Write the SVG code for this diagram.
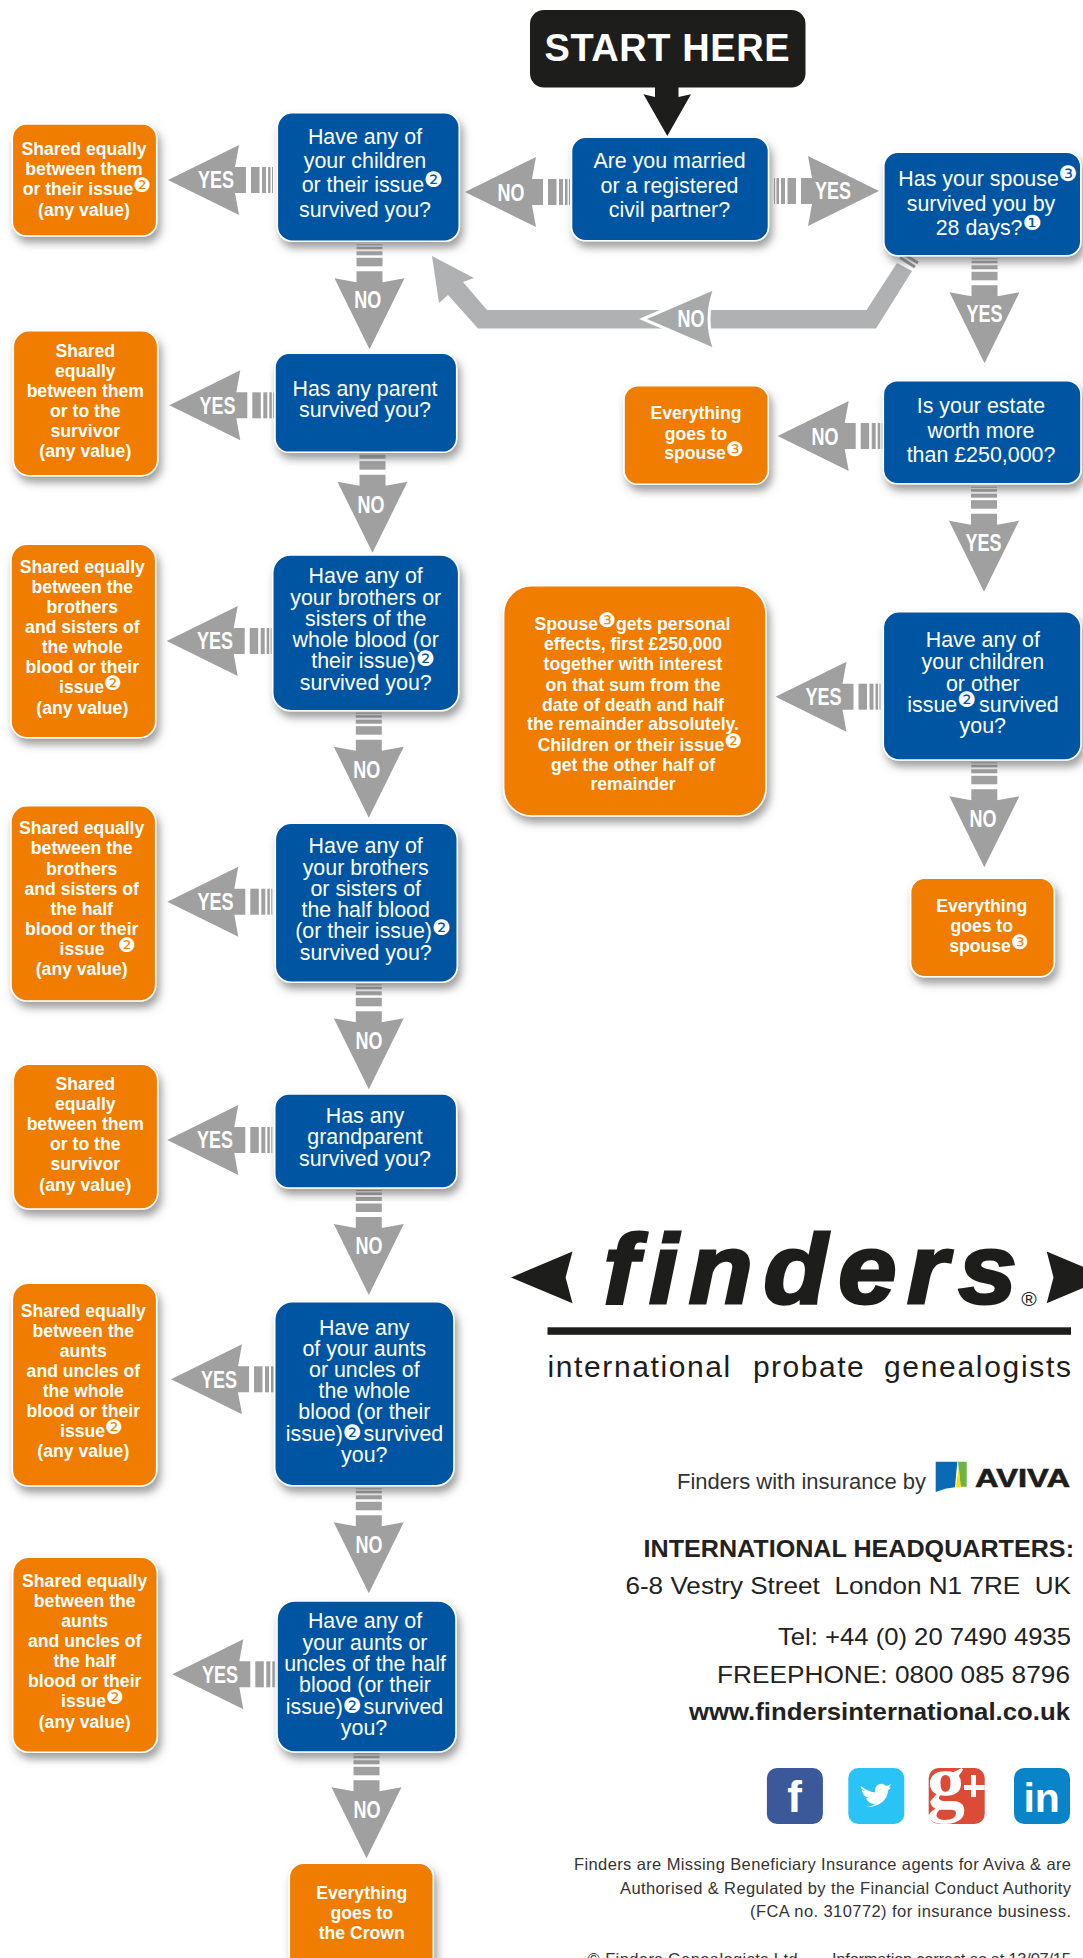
<svg xmlns="http://www.w3.org/2000/svg" xmlns:xlink="http://www.w3.org/1999/xlink" width="1083" height="1958" viewBox="0 0 1083 1958">
<style>
text{font-family:"Liberation Sans",Arial,sans-serif}
.b{fill:#0054a3;stroke:#fff;stroke-width:1.6;filter:url(#sh)}
.o{fill:#f07d00;stroke:#fff;stroke-width:1.6;filter:url(#sh)}
.q{fill:#fff;font-size:21.4px;text-anchor:middle}
.t{fill:#fff;font-size:17.6px;font-weight:700;text-anchor:middle}
.l{fill:#fff;font-size:23px;font-weight:700;text-anchor:middle}
.n{font-family:"DejaVu Sans",sans-serif;font-weight:400}
.q .n{font-size:21px}
.t .n{font-size:20px}
.a{fill:#a0a0a0}
.ad{fill:#222;text-anchor:end;white-space:pre}
</style>
<defs>
<filter id="sh" x="-15%" y="-15%" width="135%" height="135%"><feDropShadow dx="3" dy="6" stdDeviation="4" flood-color="#5a5a5a" flood-opacity=".6"/></filter>
<g id="ar" class="a"><path d="M0 0L71-35 67-13H78V13H67L71 35Z"/><rect x="83" y="-13" width="8.5" height="26"/><rect x="94" y="-13" width="4" height="26"/><rect x="100" y="-13" width="2.5" height="26"/><rect x="104" y="-13" width="1" height="26"/></g>
</defs>
<rect width="1083" height="1958" fill="#fff"/>

<g id="connectors">
<path id="start-arrow" fill="#1d1d1b" d="M655 86H678.5V97L691 94.300 667.300 136 643.500 94.300 655 97Z"/>
<g><use href="#ar" transform="translate(465 192)"/><text class="l" x="511" y="201" textLength="27" lengthAdjust="spacingAndGlyphs">NO</text></g>
<g><use href="#ar" transform="translate(879 191) rotate(180)"/><text class="l" x="833" y="199" textLength="36" lengthAdjust="spacingAndGlyphs">YES</text></g>
<g><path fill="#b0b1b3" d="M432 256L474 278 463 282 487 310H866.500L897 263 912 271 876 328.500H478L448 295 439 303Z"/>
<path stroke="#8f9092" stroke-width="3" d="M900 257.500L915 267M903 253.500L918 263"/>
<path fill="#a8a9ab" stroke="#fff" stroke-width="3" d="M643 319L715 288Q703 319 715 350Z"/>
<text class="l" x="691" y="327" textLength="27" lengthAdjust="spacingAndGlyphs">NO</text></g>
<g><use href="#ar" transform="translate(984.500 363.300) rotate(-90)"/><text class="l" x="984.500" y="322" textLength="36" lengthAdjust="spacingAndGlyphs">YES</text></g>
<g><use href="#ar" transform="translate(777.700 436)"/><text class="l" x="825" y="445" textLength="27" lengthAdjust="spacingAndGlyphs">NO</text></g>
<g><use href="#ar" transform="translate(984 591.700) rotate(-90)"/><text class="l" x="983.500" y="551" textLength="36" lengthAdjust="spacingAndGlyphs">YES</text></g>
<g><use href="#ar" transform="translate(775.500 696.700)"/><text class="l" x="823.500" y="705" textLength="36" lengthAdjust="spacingAndGlyphs">YES</text></g>
<g><use href="#ar" transform="translate(984.300 867.300) rotate(-90)"/><text class="l" x="983" y="827" textLength="27" lengthAdjust="spacingAndGlyphs">NO</text></g>

<g><use href="#ar" transform="translate(168 180)"/><text class="l" x="216" y="188.300" textLength="36" lengthAdjust="spacingAndGlyphs">YES</text></g>
<g><use href="#ar" transform="translate(169.300 405.300)"/><text class="l" x="217.500" y="413.500" textLength="36" lengthAdjust="spacingAndGlyphs">YES</text></g>
<g><use href="#ar" transform="translate(166.700 641)"/><text class="l" x="215" y="649" textLength="36" lengthAdjust="spacingAndGlyphs">YES</text></g>
<g><use href="#ar" transform="translate(167.300 901.700)"/><text class="l" x="215.500" y="910" textLength="36" lengthAdjust="spacingAndGlyphs">YES</text></g>
<g><use href="#ar" transform="translate(167.300 1140)"/><text class="l" x="215" y="1148" textLength="36" lengthAdjust="spacingAndGlyphs">YES</text></g>
<g><use href="#ar" transform="translate(171 1379.300)"/><text class="l" x="219" y="1387.500" textLength="36" lengthAdjust="spacingAndGlyphs">YES</text></g>
<g><use href="#ar" transform="translate(172.300 1674.300)"/><text class="l" x="220" y="1682.500" textLength="36" lengthAdjust="spacingAndGlyphs">YES</text></g>

<g><use href="#ar" transform="translate(369.500 349.300) rotate(-90)"/><text class="l" x="367.700" y="308.300" textLength="27" lengthAdjust="spacingAndGlyphs">NO</text></g>
<g><use href="#ar" transform="translate(372.500 552.700) rotate(-90)"/><text class="l" x="371" y="512.700" textLength="27" lengthAdjust="spacingAndGlyphs">NO</text></g>
<g><use href="#ar" transform="translate(368.800 817.700) rotate(-90)"/><text class="l" x="366.700" y="777.700" textLength="27" lengthAdjust="spacingAndGlyphs">NO</text></g>
<g><use href="#ar" transform="translate(368.800 1089.300) rotate(-90)"/><text class="l" x="369" y="1049.300" textLength="27" lengthAdjust="spacingAndGlyphs">NO</text></g>
<g><use href="#ar" transform="translate(368.800 1295) rotate(-90)"/><text class="l" x="369" y="1254.300" textLength="27" lengthAdjust="spacingAndGlyphs">NO</text></g>
<g><use href="#ar" transform="translate(368.800 1593.300) rotate(-90)"/><text class="l" x="369" y="1553.300" textLength="27" lengthAdjust="spacingAndGlyphs">NO</text></g>
<g><use href="#ar" transform="translate(366.500 1858.300) rotate(-90)"/><text class="l" x="367" y="1818.300" textLength="27" lengthAdjust="spacingAndGlyphs">NO</text></g>
</g>

<g id="start"><rect x="530" y="10" width="275.500" height="77.500" rx="14" fill="#1d1d1b"/><text x="544.500" y="61" fill="#fff" font-size="38" font-weight="700" textLength="245">START HERE</text></g>

<g id="married"><rect class="b" x="571.500" y="137.300" width="197" height="103.400" rx="14"/><text class="q"><tspan x="669.500" y="168">Are you married</tspan><tspan x="669.500" y="193">or a registered</tspan><tspan x="669.500" y="217">civil partner?</tspan></text></g>

<g id="spouse-survived"><rect class="b" x="883.800" y="152.300" width="197" height="103.400" rx="14"/><text class="q"><tspan x="988" y="186">Has your spouse<tspan class="n" dy="-5">❸</tspan></tspan><tspan x="981" y="210.700">survived you by</tspan><tspan x="988.500" y="235">28 days?<tspan class="n" dy="-5">❶</tspan></tspan></text></g>

<g id="estate"><rect class="b" x="883.300" y="380.700" width="197.700" height="103" rx="14"/><text class="q"><tspan x="981" y="413.300">Is your estate</tspan><tspan x="981" y="438.300">worth more</tspan><tspan x="981" y="462.300">than £250,000?</tspan></text></g>

<g id="spouse-all-1"><rect class="o" x="624" y="385.700" width="144.300" height="98.600" rx="14"/><text class="t"><tspan x="696" y="419.300">Everything</tspan><tspan x="696" y="440">goes to</tspan><tspan x="704" y="459.300">spouse<tspan class="n" dy="-3">❸</tspan></tspan></text></g>

<g id="children-2"><rect class="b" x="883.300" y="611.700" width="197.700" height="148.300" rx="16"/><text class="q"><tspan x="982.800" y="647.300">Have any of</tspan><tspan x="982.800" y="669.300">your children</tspan><tspan x="982.800" y="691">or other</tspan><tspan x="983" y="711.700">issue<tspan class="n" dy="-5">❷</tspan><tspan dy="5" dx="3">survived</tspan></tspan><tspan x="982.800" y="733.300">you?</tspan></text></g>

<g id="spouse-half"><rect class="o" x="503.600" y="585.700" width="262.400" height="230.300" rx="28"/><text class="t"><tspan x="632.500" y="630">Spouse<tspan class="n" dy="-3">❸</tspan><tspan dy="3">gets personal</tspan></tspan><tspan x="633" y="650">effects, first £250,000</tspan><tspan x="633" y="670">together with interest</tspan><tspan x="633" y="690.700">on that sum from the</tspan><tspan x="633" y="710.700">date of death and half</tspan><tspan x="633" y="730">the remainder absolutely.</tspan><tspan x="640" y="750.700">Children or their issue<tspan class="n" dy="-3">❷</tspan></tspan><tspan x="633" y="770.700">get the other half of</tspan><tspan x="633" y="790">remainder</tspan></text></g>

<g id="spouse-all-2"><rect class="o" x="910.600" y="878.300" width="143.700" height="98.400" rx="14"/><text class="t"><tspan x="981.700" y="911.700">Everything</tspan><tspan x="981.700" y="931.700">goes to</tspan><tspan x="989" y="952.300">spouse<tspan class="n" dy="-3">❸</tspan></tspan></text></g>

<g id="children"><rect class="b" x="277.300" y="112.700" width="182" height="128.600" rx="15"/><text class="q"><tspan x="365" y="144">Have any of</tspan><tspan x="365" y="168.300">your children</tspan><tspan x="372.300" y="192.300">or their issue<tspan class="n" dy="-5">❷</tspan></tspan><tspan x="365" y="216.700">survived you?</tspan></text></g>
<g id="share-children"><rect class="o" x="12.300" y="124" width="144.400" height="112" rx="14"/><text class="t"><tspan x="84" y="155">Shared equally</tspan><tspan x="84" y="175">between them</tspan><tspan x="87" y="195">or their issue<tspan class="n" dy="-3">❷</tspan></tspan><tspan x="84" y="215.700">(any value)</tspan></text></g>

<g id="parent"><rect class="b" x="275" y="353.300" width="181.700" height="99" rx="14"/><text class="q"><tspan x="365" y="395.700">Has any parent</tspan><tspan x="365" y="417.300">survived you?</tspan></text></g>
<g id="share-parent"><rect class="o" x="13.300" y="330.700" width="144.400" height="145" rx="16"/><text class="t"><tspan x="85.300" y="356.700">Shared</tspan><tspan x="85.300" y="376.700">equally</tspan><tspan x="85.300" y="396.700">between them</tspan><tspan x="85.300" y="416.700">or to the</tspan><tspan x="85.300" y="436.700">survivor</tspan><tspan x="85.300" y="457.300">(any value)</tspan></text></g>

<g id="brothers-whole"><rect class="b" x="272.700" y="555" width="186" height="155.700" rx="18"/><text class="q"><tspan x="365.700" y="583.300">Have any of</tspan><tspan x="365.700" y="605">your brothers or</tspan><tspan x="365.700" y="626">sisters of the</tspan><tspan x="365.700" y="647.300">whole blood (or</tspan><tspan x="373" y="668.300">their issue)<tspan class="n" dy="-2">❷</tspan></tspan><tspan x="365.700" y="690">survived you?</tspan></text></g>
<g id="share-brothers-whole"><rect class="o" x="11" y="544.300" width="144.700" height="193.400" rx="16"/><text class="t"><tspan x="82.300" y="572.700">Shared equally</tspan><tspan x="82.300" y="593.300">between the</tspan><tspan x="82.300" y="613.300">brothers</tspan><tspan x="82.300" y="633.300">and sisters of</tspan><tspan x="82.300" y="653.300">the whole</tspan><tspan x="82.300" y="673.300">blood or their</tspan><tspan x="90.500" y="693.300">issue<tspan class="n" dy="-3">❷</tspan></tspan><tspan x="82.300" y="714">(any value)</tspan></text></g>

<g id="brothers-half"><rect class="b" x="275.300" y="823.300" width="182" height="159" rx="16"/><text class="q"><tspan x="365.700" y="853.300">Have any of</tspan><tspan x="365.700" y="875">your brothers</tspan><tspan x="365.700" y="895.700">or sisters of</tspan><tspan x="365.700" y="917.300">the half blood</tspan><tspan x="373" y="938.300">(or their issue)<tspan class="n" dy="-3">❷</tspan></tspan><tspan x="365.700" y="960">survived you?</tspan></text></g>
<g id="share-brothers-half"><rect class="o" x="11" y="805.700" width="144.700" height="195.300" rx="16"/><text class="t"><tspan x="81.700" y="834.300">Shared equally</tspan><tspan x="81.700" y="854.300">between the</tspan><tspan x="81.700" y="875">brothers</tspan><tspan x="81.700" y="895">and sisters of</tspan><tspan x="81.700" y="915">the half</tspan><tspan x="81.700" y="935">blood or their</tspan><tspan x="82" y="955">issue</tspan><tspan class="n" x="127" y="952">❷</tspan><tspan x="81.700" y="975">(any value)</tspan></text></g>

<g id="grandparent"><rect class="b" x="274.700" y="1094" width="182" height="94" rx="14"/><text class="q"><tspan x="365" y="1123.300">Has any</tspan><tspan x="365" y="1144.300">grandparent</tspan><tspan x="365" y="1166">survived you?</tspan></text></g>
<g id="share-grandparent"><rect class="o" x="13.300" y="1064.300" width="144.400" height="144.700" rx="16"/><text class="t"><tspan x="85.300" y="1090">Shared</tspan><tspan x="85.300" y="1110">equally</tspan><tspan x="85.300" y="1130">between them</tspan><tspan x="85.300" y="1150">or to the</tspan><tspan x="85.300" y="1170">survivor</tspan><tspan x="85.300" y="1190.700">(any value)</tspan></text></g>

<g id="aunts-whole"><rect class="b" x="274.700" y="1301.700" width="179.300" height="184" rx="18"/><text class="q"><tspan x="364.300" y="1335">Have any</tspan><tspan x="364.300" y="1356">of your aunts</tspan><tspan x="364.300" y="1376.700">or uncles of</tspan><tspan x="364.300" y="1398.300">the whole</tspan><tspan x="364.300" y="1419.300">blood (or their</tspan><tspan x="364.500" y="1440.700">issue)<tspan class="n" dy="-1">❷</tspan><tspan dy="1" dx="2">survived</tspan></tspan><tspan x="364.300" y="1461.700">you?</tspan></text></g>
<g id="share-aunts-whole"><rect class="o" x="12.300" y="1283.300" width="144.400" height="202.700" rx="16"/><text class="t"><tspan x="83.300" y="1316.700">Shared equally</tspan><tspan x="83.300" y="1336.700">between the</tspan><tspan x="83.300" y="1357.300">aunts</tspan><tspan x="83.300" y="1377.300">and uncles of</tspan><tspan x="83.300" y="1397.300">the whole</tspan><tspan x="83.300" y="1417.300">blood or their</tspan><tspan x="91.500" y="1437.300">issue<tspan class="n" dy="-3">❷</tspan></tspan><tspan x="83.300" y="1457.300">(any value)</tspan></text></g>

<g id="aunts-half"><rect class="b" x="277" y="1601" width="179" height="151" rx="18"/><text class="q"><tspan x="365" y="1628.300">Have any of</tspan><tspan x="365" y="1650">your aunts or</tspan><tspan x="365" y="1671">uncles of the half</tspan><tspan x="365" y="1692.300">blood (or their</tspan><tspan x="364.500" y="1714">issue)<tspan class="n" dy="-1">❷</tspan><tspan dy="1" dx="2">survived</tspan></tspan><tspan x="364" y="1735">you?</tspan></text></g>
<g id="share-aunts-half"><rect class="o" x="12.700" y="1557.300" width="144.600" height="195" rx="16"/><text class="t"><tspan x="84.700" y="1587.300">Shared equally</tspan><tspan x="84.700" y="1606.700">between the</tspan><tspan x="84.700" y="1627.300">aunts</tspan><tspan x="84.700" y="1647.300">and uncles of</tspan><tspan x="84.700" y="1667.300">the half</tspan><tspan x="84.700" y="1687.300">blood or their</tspan><tspan x="92.500" y="1707.300">issue<tspan class="n" dy="-3">❷</tspan></tspan><tspan x="84.700" y="1727.700">(any value)</tspan></text></g>

<g id="crown"><rect class="o" x="289.300" y="1863.300" width="144" height="115" rx="14"/><text class="t"><tspan x="361.700" y="1899">Everything</tspan><tspan x="361.700" y="1919.300">goes to</tspan><tspan x="361.700" y="1939.300">the Crown</tspan></text></g>

<g id="logo" fill="#1d1d1b">
<path d="M511 1277.400L572.500 1251.500 565.600 1277.400 572.500 1303.300Z"/>
<path d="M1108 1277.400L1046.700 1251.500 1053.500 1277.400 1046.700 1303.300Z"/>
<text x="603.500" y="1303.300" font-size="98" font-weight="700" font-style="italic" stroke="#1d1d1b" stroke-width="3" textLength="424" lengthAdjust="spacingAndGlyphs" letter-spacing="10">finders</text>
<text x="1029" y="1306" font-size="21" text-anchor="middle">®</text>
<rect x="547.500" y="1327.300" width="523.500" height="7.500"/>
<text y="1376.700" font-size="30"><tspan x="547.500" textLength="182.700">international</tspan><tspan x="752.900" textLength="110.800">probate</tspan><tspan x="884" textLength="187">genealogists</tspan></text>
</g>

<g id="insurance">
<text x="926" y="1489" font-size="22" fill="#333" text-anchor="end" textLength="249">Finders with insurance by</text>
<path fill="#0a6ab4" d="M935.700 1461.700H957.300L955 1487.300Q945 1488 935.700 1492Z"/>
<path fill="#6cb33f" d="M958 1461.700H966.700V1486.700H960.700Z"/>
<path fill="#ffd90f" d="M959 1468L960.700 1487 955.700 1487.300Z"/>
<text x="975" y="1486.700" font-size="25.500" font-weight="700" fill="#1d1d1b" stroke="#1d1d1b" stroke-width=".6" textLength="95" lengthAdjust="spacingAndGlyphs">AVIVA</text>
</g>

<g id="address">
<text class="ad" x="1074" y="1557.400" font-size="24" font-weight="700" textLength="430.500" lengthAdjust="spacingAndGlyphs">INTERNATIONAL HEADQUARTERS:</text>
<text class="ad" x="1071" y="1594" font-size="24.300" textLength="445.600" lengthAdjust="spacingAndGlyphs">6-8 Vestry Street  London N1 7RE  UK</text>
<text class="ad" x="1071" y="1645" font-size="24.300" textLength="293" lengthAdjust="spacingAndGlyphs">Tel: +44 (0) 20 7490 4935</text>
<text class="ad" x="1070" y="1682.600" font-size="24.300" textLength="353" lengthAdjust="spacingAndGlyphs">FREEPHONE: 0800 085 8796</text>
<text class="ad" x="1070" y="1719.800" font-size="24.300" font-weight="700" textLength="381" lengthAdjust="spacingAndGlyphs">www.findersinternational.co.uk</text>
</g>

<g id="social">
<g id="facebook"><rect x="766.900" y="1768" width="56" height="56" rx="10" fill="#3b5998"/><text x="794.500" y="1811.700" font-size="44" font-weight="700" fill="#fff" text-anchor="middle">f</text></g>
<g id="twitter"><rect x="848.300" y="1768" width="56" height="56" rx="10" fill="#29c3f6"/><path fill="#fff" d="M861 1786C866 1790 870 1792 875 1792.500C874 1786 879 1783 883 1784C885 1785 886 1786 887 1786L891 1784L889 1788L891 1787.500L888 1790.500C888 1800 878 1808 865 1807C869 1807 872 1806 875 1804C870 1804 867 1801 866 1798L869 1798C865 1797 862 1794 862 1790L865 1791C862 1789 860 1788 861 1786Z"/></g>
<g id="googleplus"><clipPath id="gc"><rect x="928.700" y="1768" width="56" height="56" rx="8"/></clipPath><rect x="928.700" y="1768" width="56" height="56" rx="10" fill="#db4b35"/><text clip-path="url(#gc)" x="927" y="1808" style="font-family:'Liberation Serif',serif" font-size="76" font-weight="700" fill="#fff">g</text><path fill="#fff" d="M971 1775H976V1785H984.700V1790H976V1797H971V1790H964V1785H971Z"/></g>
<g id="linkedin"><rect x="1014" y="1768" width="56" height="56" rx="10" fill="#0a84c8"/><text x="1041.700" y="1811.700" font-size="41" font-weight="700" fill="#fff" text-anchor="middle">in</text></g>
</g>

<g id="footer" fill="#333">
<text x="1071" y="1870.400" font-size="16.500" text-anchor="end" textLength="497">Finders are Missing Beneficiary Insurance agents for Aviva &amp; are</text>
<text x="1071" y="1893.900" font-size="16.500" text-anchor="end" textLength="451">Authorised &amp; Regulated by the Financial Conduct Authority</text>
<text x="1071" y="1917.400" font-size="16.500" text-anchor="end" textLength="321">(FCA no. 310772) for insurance business.</text>
<text x="587.600" y="1964.600" font-size="16.500" textLength="210">© Finders Genealogists Ltd</text>
<text x="1071" y="1964.600" font-size="16.500" text-anchor="end" textLength="239">Information correct as at 13/07/15</text>
</g>
</svg>
